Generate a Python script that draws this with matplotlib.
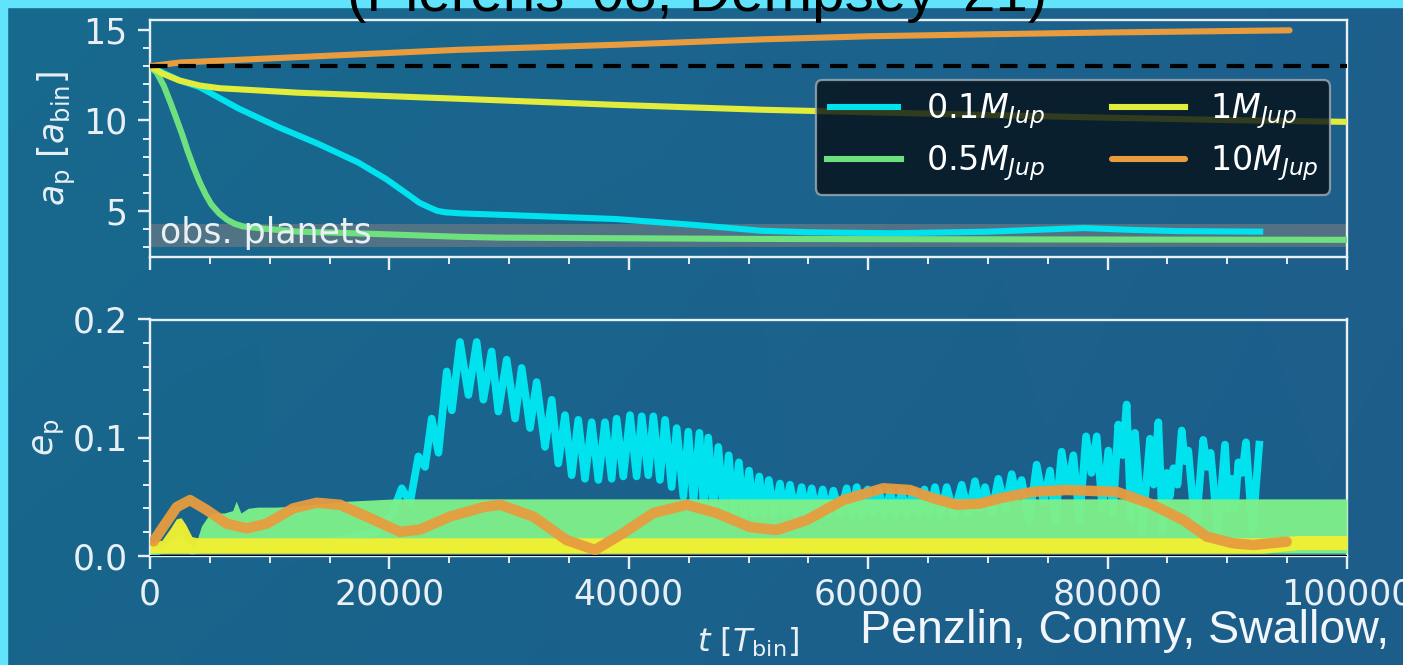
import numpy as np
import matplotlib
matplotlib.use("Agg")
import matplotlib.pyplot as plt
from matplotlib.ticker import MultipleLocator, FixedLocator, FixedFormatter
from matplotlib.patches import Rectangle

# ------------------------------------------------------------------
# Planet semi-major axis a_p [a_bin] versus time t [T_bin]
# ------------------------------------------------------------------
t_a_01 = [0, 1200, 2500, 4140, 7450, 10760, 14070, 17380, 19700, 21690,
          22500, 23340, 24000, 24670, 26000, 28980, 38900, 45530, 51100,
          55000, 62000, 70000, 78000, 82000, 86000, 93000]
a_01 = [13.0, 12.6, 12.2, 11.84, 10.64, 9.62, 8.7, 7.68, 6.77, 5.84,
        5.45, 5.19, 5.0, 4.92, 4.86, 4.79, 4.55, 4.22, 3.9,
        3.82, 3.76, 3.85, 4.05, 3.95, 3.88, 3.85]

t_a_05 = [0, 600, 1160, 1700, 2150, 2700, 3150, 3650, 4140, 4650, 5130,
          5800, 6460, 7100, 7780, 9770, 12400, 18100, 25660, 29240, 50000,
          75000, 100000]
a_05 = [13.0, 12.6, 11.9, 11.0, 10.2, 9.2, 8.3, 7.4, 6.6, 5.9, 5.35,
        4.85, 4.5, 4.28, 4.14, 4.0, 3.85, 3.74, 3.57, 3.52, 3.45,
        3.42, 3.4]

t_a_1 = [0, 1000, 2480, 4140, 5800, 12400, 25660, 38900, 51100, 60000,
         70000, 80000, 90000, 100000]
a_1 = [13.0, 12.6, 12.2, 11.93, 11.78, 11.53, 11.2, 10.86, 10.59, 10.45,
       10.3, 10.15, 10.02, 9.92]

t_a_10 = [0, 2500, 12400, 25660, 38900, 51100, 60000, 70000, 80000, 95200]
a_10 = [13.0, 13.2, 13.5, 13.9, 14.18, 14.48, 14.65, 14.76, 14.86, 14.98]

a_init = 13.0
obs_band = (3.0, 4.3)

# ------------------------------------------------------------------
# Planet eccentricity e_p versus time t [T_bin]
# ------------------------------------------------------------------
t_e_01 = [0, 1500, 2500, 3500, 6000, 10000, 15000, 19000, 20200,
          21030, 21730, 22420, 22980, 23530, 24100, 24790, 25220, 25900, 26600,
          27290, 27850, 28540, 29100, 29800, 30500, 31050, 31750, 32300, 33000,
          33560, 34110, 34670, 35230, 35780, 36340, 36900, 37460, 38010, 38570,
          38980, 39540, 40100, 40650, 41080, 41630, 42050, 42600, 43030, 43580,
          44000, 44560, 44970, 45400, 45900, 46250, 46640, 47050, 47480, 47900,
          48350, 48750, 49200, 49600, 50050, 50450, 50900, 51250, 51700, 52150,
          52630, 53050, 53470, 53950, 54440, 54850, 55280, 55750, 56200, 56650,
          57090, 57650, 58200, 58600, 59040, 59500, 59950, 60400, 60900, 61350,
          61850, 62300, 62800, 63250, 63750, 64200, 64700, 65100, 65580, 66050,
          66560, 67150, 67810, 68400, 68920, 69350, 69760, 70300, 70870, 71450,
          71990, 72400, 72820, 73450, 74070, 74650, 75190, 75650, 76160, 76650,
          77140, 77650, 78200, 78650, 79090, 79550, 80060, 80450, 80890, 81250,
          81590, 81950, 82290, 82900, 83540, 83850, 84240, 84600, 84940, 85200,
          85500, 85850, 86190, 86450, 86740, 87350, 87990, 88300, 88610, 89200,
          89810, 90100, 90370, 90650, 90920, 91250, 91560, 92100, 92670]
e_01 = [0.002, 0.006, 0.014, 0.004, 0.008, 0.010, 0.012, 0.020, 0.035,
        0.057, 0.045, 0.084, 0.075, 0.116, 0.087, 0.156, 0.123, 0.181, 0.136,
        0.181, 0.132, 0.173, 0.122, 0.166, 0.116, 0.159, 0.108, 0.147, 0.092,
        0.132, 0.078, 0.119, 0.068, 0.115, 0.065, 0.113, 0.064, 0.113, 0.065,
        0.116, 0.067, 0.119, 0.067, 0.118, 0.068, 0.118, 0.064, 0.115, 0.058,
        0.108, 0.050, 0.105, 0.046, 0.104, 0.042, 0.100, 0.040, 0.092, 0.038,
        0.085, 0.036, 0.079, 0.035, 0.072, 0.035, 0.067, 0.035, 0.064, 0.035,
        0.061, 0.035, 0.060, 0.035, 0.058, 0.035, 0.057, 0.035, 0.056, 0.035,
        0.055, 0.035, 0.057, 0.035, 0.058, 0.035, 0.056, 0.035, 0.055, 0.035,
        0.054, 0.035, 0.054, 0.035, 0.055, 0.035, 0.056, 0.035, 0.058, 0.035,
        0.058, 0.035, 0.060, 0.035, 0.063, 0.040, 0.058, 0.035, 0.065, 0.040,
        0.069, 0.050, 0.064, 0.030, 0.077, 0.045, 0.072, 0.030, 0.088, 0.055,
        0.085, 0.030, 0.101, 0.070, 0.101, 0.040, 0.089, 0.035, 0.111, 0.085,
        0.128, 0.030, 0.104, 0.020, 0.099, 0.060, 0.113, 0.020, 0.070, 0.050,
        0.074, 0.060, 0.106, 0.080, 0.089, 0.020, 0.098, 0.075, 0.087, 0.020,
        0.094, 0.040, 0.065, 0.040, 0.079, 0.070, 0.096, 0.020, 0.094]

t_e_05 = [0, 1200, 1900, 2500, 3100, 3700, 4300, 4900, 5500, 6200, 6900,
          7200, 7600, 8200, 9000, 10500, 12500, 14500, 16500, 18500, 20500,
          100000]
e_05_hi = [0.003, 0.005, 0.013, 0.016, 0.012, 0.006, 0.025, 0.034, 0.036,
           0.036, 0.038, 0.046, 0.036, 0.040, 0.041, 0.041, 0.042, 0.044,
           0.046, 0.047, 0.048, 0.048]
e_05_lo = [0.002] * len(t_e_05)

t_e_1 = [0, 1000, 1700, 2200, 2600, 3000, 3500, 4000, 93000, 96000, 100000]
e_1_hi = [0.011, 0.013, 0.023, 0.031, 0.032, 0.026, 0.016, 0.015, 0.015,
          0.017, 0.017]
e_1_lo = [0.002, 0.002, 0.002, 0.002, 0.002, 0.002, 0.002, 0.002, 0.002,
          0.005, 0.005]

t_e_10 = [300, 1090, 2230, 3340, 4730, 6400, 8080, 9750, 11970, 13930,
          15870, 18100, 20890, 22560, 25060, 27850, 29240, 32020, 34810,
          37180, 39540, 42050, 44840, 47340, 50130, 52350, 54860, 57920,
          61260, 63490, 65440, 67390, 69340, 71010, 73790, 76580, 80760,
          83540, 86330, 88280, 90500, 92170, 94960]
e_10 = [0.012, 0.024, 0.041, 0.047, 0.0386, 0.027, 0.023, 0.027, 0.040,
        0.0447, 0.043, 0.033, 0.020, 0.022, 0.033, 0.041, 0.043, 0.033,
        0.013, 0.0047, 0.019, 0.036, 0.043, 0.036, 0.024, 0.0216, 0.030,
        0.047, 0.057, 0.0555, 0.0485, 0.043, 0.044, 0.0485, 0.054, 0.0555,
        0.054, 0.044, 0.030, 0.016, 0.0103, 0.0089, 0.0117]

labels = ["$0.1M_{Jup}$", "$0.5M_{Jup}$", "$1M_{Jup}$", "$10M_{Jup}$"]
x_ticks = [0, 20000, 40000, 60000, 80000, 100000]
x_ticklabels = ["0", "20000", "40000", "60000", "80000", "100000"]
a_ticks = [5, 10, 15]
e_ticks = [0.0, 0.1, 0.2]
e_ticklabels = ["0.0", "0.1", "0.2"]

# ------------------------------------------------------------------
# styling
# ------------------------------------------------------------------
c01 = "#00e2ee"
c05 = "#6fe07e"
c05_fill = "#7ef08a"
c1 = "#e2ec3a"
c1_fill = "#f0f032"
c10 = "#e89c3e"
fg = "#e8f0f6"
FS = 25

plt.rcParams["font.family"] = ["DejaVu Sans"]
plt.rcParams["mathtext.fontset"] = "dejavusans"

W, H = 1403, 665
fig = plt.figure(figsize=(W / 100, H / 100), dpi=100)

# slide background
bg = fig.add_axes([0, 0, 1, 1], zorder=-10)
yy, xx = np.mgrid[0:1:60j, 0:1:120j]
tl = np.array([24, 106, 143]) / 255
tr = np.array([30, 95, 140]) / 255
bl = np.array([24, 101, 140]) / 255
br = np.array([29, 93, 138]) / 255
img = ((1 - xx)[..., None] * (1 - yy)[..., None] * tl
       + xx[..., None] * (1 - yy)[..., None] * tr
       + (1 - xx)[..., None] * yy[..., None] * bl
       + xx[..., None] * yy[..., None] * br)
bg.imshow(img, aspect="auto", extent=[0, 1, 0, 1], origin="upper",
          interpolation="bilinear")
bg.set_xlim(0, 1)
bg.set_ylim(0, 1)
bg.axis("off")
strip = "#62e3fc"
bg.add_patch(Rectangle((0, 0), 7 / W, 1, color=strip, transform=bg.transAxes))
bg.add_patch(Rectangle((0, 1 - 7 / H), 1, 7 / H, color=strip,
                       transform=bg.transAxes))

fig.text(697 / W, 1 - 11 / H, "(Pierens '08, Dempsey '21)", ha="center",
         va="baseline", fontsize=42, family="Liberation Sans", color="black")
fig.text(860 / W, 1 - 643 / H, "Penzlin, Conmy, Swallow,", ha="left",
         va="baseline", fontsize=33.5, family="Liberation Sans",
         color="#f2f6fa")

L, R = 150 / W, 1347 / W
ax1 = fig.add_axes([L, 1 - 257 / H, R - L, 237 / H])
ax2 = fig.add_axes([L, 1 - 555.5 / H, R - L, 236 / H])

for ax in (ax1, ax2):
    ax.set_facecolor("none")
    for s in ax.spines.values():
        s.set_color(fg)
        s.set_linewidth(1.7)
    ax.set_xlim(0, 100000)
    ax.xaxis.set_major_locator(FixedLocator(x_ticks))
    ax.xaxis.set_minor_locator(MultipleLocator(5000))
    ax.tick_params(which="major", length=9, width=1.7, colors=fg,
                   labelsize=FS, pad=7, top=False, right=False)
    ax.tick_params(which="minor", length=5, width=1.4, colors=fg,
                   top=False, right=False)

# ---- top: semi-major axis ----
ax1.axhspan(*obs_band, color="#808080", alpha=0.55, lw=0, zorder=1)
ax1.axhline(a_init, color="black", lw=3, ls=(0, (4.2, 2.6)), zorder=4)
lw_a = 4.4
l01, = ax1.plot(t_a_01, a_01, color=c01, lw=lw_a, zorder=3,
                solid_capstyle="butt", solid_joinstyle="round")
l05, = ax1.plot(t_a_05, a_05, color=c05, lw=lw_a, zorder=3,
                solid_joinstyle="round")
l1, = ax1.plot(t_a_1, a_1, color=c1, lw=lw_a, zorder=3,
               solid_joinstyle="round")
l10, = ax1.plot(t_a_10, a_10, color=c10, lw=lw_a, zorder=3,
                solid_capstyle="round", solid_joinstyle="round")
ax1.text(800, 3.2, "obs. planets", color=fg, fontsize=FS, va="baseline",
         ha="left", zorder=5)
ax1.set_ylim(2.45, 15.55)
ax1.yaxis.set_major_locator(FixedLocator(a_ticks))
ax1.yaxis.set_minor_locator(MultipleLocator(1))
ax1.tick_params(labelbottom=False)
ax1.set_ylabel("$a_\\mathrm{p}$ [$a_\\mathrm{bin}$]", color=fg, fontsize=FS)

leg = ax1.legend([l01, l05, l1, l10], labels, ncol=2, loc="upper right",
                 bbox_to_anchor=(0.986, 0.747), borderaxespad=0,
                 fontsize=FS - 1, handlelength=2.2, handletextpad=0.75,
                 columnspacing=2.0, labelspacing=0.35, borderpad=0.35,
                 fancybox=True)
leg.get_frame().set_facecolor((0.02, 0.06, 0.09, 0.88))
leg.get_frame().set_edgecolor("#a4acb4")
leg.get_frame().set_linewidth(1.6)
leg.set_zorder(6)
for txt in leg.get_texts():
    txt.set_color("white")

# ---- bottom: eccentricity ----
ax2.plot(t_e_01, e_01, color=c01, lw=5.5, zorder=2, solid_joinstyle="round")
ax2.fill_between(t_e_05, e_05_lo, e_05_hi, color=c05_fill, alpha=0.96,
                 lw=0, zorder=3)
ax2.fill_between(t_e_1, e_1_lo, e_1_hi, color=c1_fill, alpha=0.97, lw=0,
                 zorder=4)
ax2.plot(t_e_10, e_10, color=c10, lw=7.5, zorder=5, alpha=0.95,
         solid_capstyle="round", solid_joinstyle="round")
ax2.axhline(0, color="black", lw=1.5, zorder=6)
ax2.set_ylim(0, 0.2)
ax2.yaxis.set_major_locator(FixedLocator(e_ticks))
ax2.yaxis.set_major_formatter(FixedFormatter(e_ticklabels))
ax2.yaxis.set_minor_locator(MultipleLocator(0.02))
ax2.xaxis.set_major_formatter(FixedFormatter(x_ticklabels))
ax2.set_ylabel("$e_\\mathrm{p}$", color=fg, fontsize=FS)
ax2.set_xlabel("$t$ [$T_\\mathrm{bin}$]", color=fg, fontsize=FS - 2,
               labelpad=10)

fig.savefig("out.png", dpi=100)
